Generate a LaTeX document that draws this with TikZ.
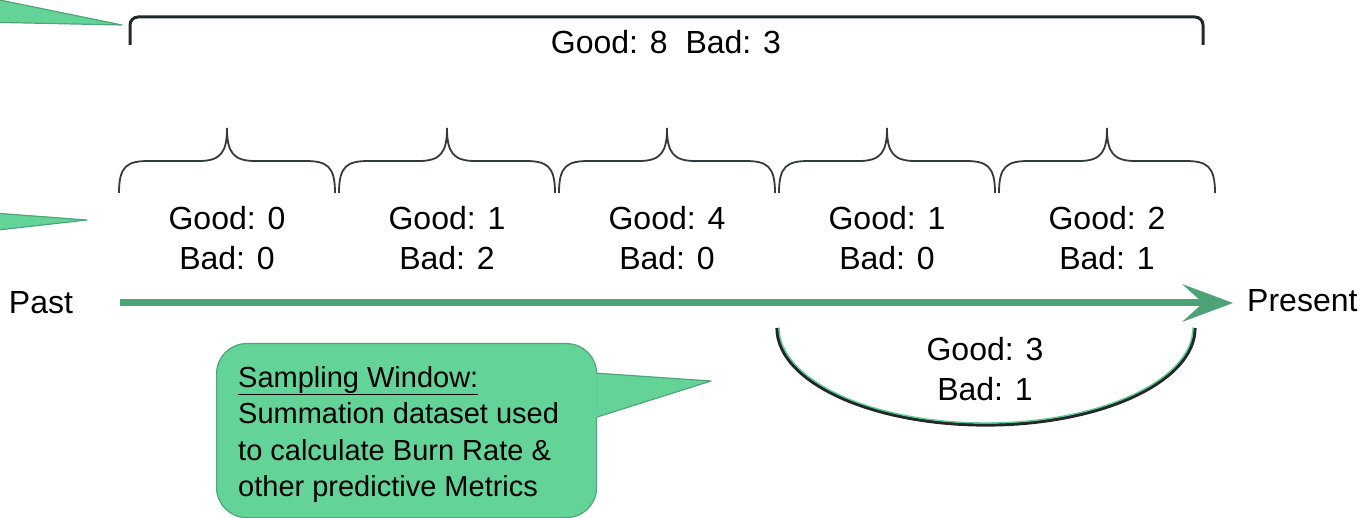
\documentclass[tikz,border=0pt]{standalone}
\usepackage{fontspec}
\setmainfont{Liberation Sans}
\usetikzlibrary{calc}
\definecolor{calloutfill}{HTML}{63D398}
\definecolor{calloutedge}{HTML}{4FA67A}
\definecolor{timeline}{HTML}{4DA378}
\definecolor{inkdark}{HTML}{22282A}
\definecolor{bracegray}{HTML}{363A3C}
\tikzset{
  count/.style={align=center, font=\fontsize{32}{40}\selectfont, inner sep=0pt},
  endlabel/.style={font=\fontsize{32}{40}\selectfont, inner sep=0pt},
  bucketbrace/.style={draw=bracegray, line width=1.8pt},
  tail/.style={fill=calloutfill, draw=calloutedge, line width=1.2pt, line join=round},
}
\begin{document}
\begin{tikzpicture}[x=1pt, y=-1pt]
\useasboundingbox (0,0) rectangle (1368,518);

% callout tails whose bodies sit beyond the left edge
\path[tail] (-20,-4) -- (122,25) -- (-20,22) -- cycle;
\path[tail] (-20,212) -- (87,220) -- (-20,232) -- cycle;

% overall bracket
\draw[inkdark, line width=3pt, rounded corners=8pt]
  (130,45) -- (130,17) -- (1203,17) -- (1203,45);
\node[endlabel] (total) at (666,42) {Good: 8\ \ Bad: 3};

% per-interval braces and counts
\foreach \c/\g/\b [count=\i] in {227/0/0, 447/1/2, 667/4/0, 887/1/0, 1107/2/1}{
  \draw[bucketbrace]
    ({\c-108},193) .. controls ({\c-108},166) and ({\c-100},161) .. ({\c-78},161)
    -- ({\c-28},161) .. controls ({\c-6},161) and ({\c},152) .. ({\c},128)
    .. controls ({\c},152) and ({\c+6},161) .. ({\c+28},161)
    -- ({\c+78},161) .. controls ({\c+100},161) and ({\c+108},166) .. ({\c+108},193);
  \node[count] (bucket\i) at (\c,238) {Good: \g\\Bad: \b};
}

% timeline
\node[endlabel] (past) at (41,303) {Past};
\node[endlabel, anchor=west] (present) at (1247,301) {Present};
\coordinate (tstart) at (120,303);
\coordinate (tneck) at (1203,303);
\coordinate (ttip) at (1233,303);
\draw[timeline, line width=7pt] (tstart) -- (tneck);
\fill[timeline] (ttip) -- (1182,284) -- (1203,303) -- (1182,322) -- cycle;

% sampling window
\draw[inkdark, line width=3.2pt] (777,328) arc[start angle=180, end angle=0, x radius=209, y radius=97];
\draw[calloutfill!80!calloutedge, line width=1.4pt] (779,327.5) arc[start angle=180, end angle=0, x radius=207, y radius=95.5];
\node[count] (window) at (985,369) {Good: 3\\Bad: 1};

% explanatory callout
\path[tail] (594,373) -- (711,381) -- (594,418) -- cycle;
\node[fill=calloutfill, draw=calloutedge, line width=1.2pt, rounded corners=30pt,
      minimum width=380pt, minimum height=174pt, anchor=north west,
      inner sep=0pt] (note) at (216,343) {};
\fill[calloutfill] (592,374.5) -- (597,374.5) -- (597,416.5) -- (592,416.5) -- cycle;
\node[anchor=north west, align=left, inner sep=0pt,
      font=\fontsize{29}{36.5}\selectfont] (notetext) at (238,366)
  {\underline{Sampling Window:}\\Summation dataset used\\to calculate Burn Rate \&\\other predictive Metrics};
\end{tikzpicture}
\end{document}
